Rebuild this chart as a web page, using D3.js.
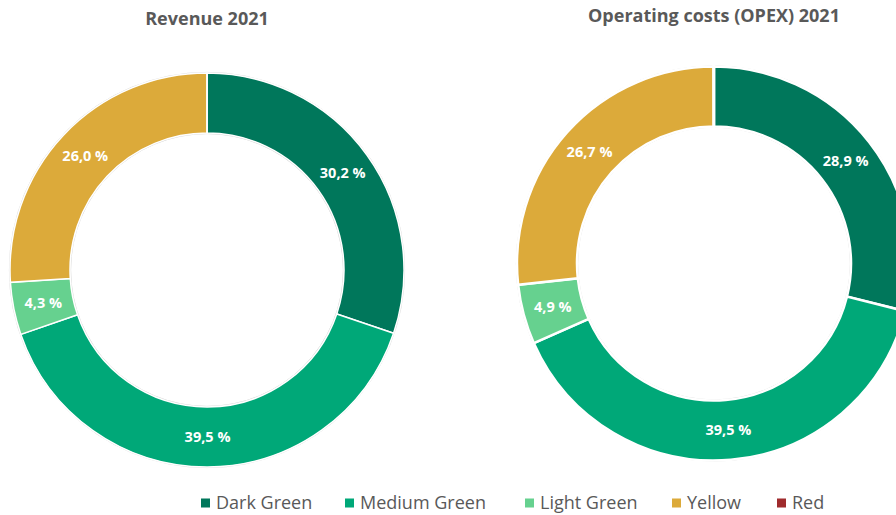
<!DOCTYPE html>
<html>
<head>
<meta charset="utf-8">
<script src="https://cdn.jsdelivr.net/npm/d3@7"></script>
<style>
    body { margin: 0; background: #fff; }
    svg { display: block; font-family: "Open Sans", sans-serif; }
</style>
</head>
<body>
<svg id="chart" width="896" height="515"></svg>
<script>
// legend / data order (Excel draws slices clockwise from 12 o'clock in this order)
const categories = ["Dark Green", "Medium Green", "Light Green", "Yellow", "Red"];
const colors = ["#00775b", "#00a878", "#66d18f", "#dcaa3a", "#9f2b2d"];

const revenueValues = [30.2, 39.5, 4.3, 26.0, 0];
const opexValues = [28.9, 39.5, 4.9, 26.7, 0.04];

const chartTitles = ["Revenue 2021", "Operating costs (OPEX) 2021"];

const svg = d3.select("#chart");
const color = d3.scaleOrdinal().domain(categories).range(colors);
const fmt = v => d3.format(".1f")(v).replace(".", ",") + " %";

function drawDonut(values, title, cx, cy, opts) {
    let g = svg.append("g")
        .attr("class", "donut")
        .attr("transform", `translate(${cx},${cy})`);

    let rows = categories.map((c, i) => ({ name: c, value: values[i] }));

    let pie = d3.pie()
        .sort(null)
        .value(d => d.value);
    let arc = d3.arc()
        .innerRadius(opts.inner)
        .outerRadius(opts.outer);
    let labelArc = d3.arc()
        .innerRadius((opts.inner + opts.outer) / 2)
        .outerRadius((opts.inner + opts.outer) / 2);

    // faint grey rim, like the Excel shadow
    g.selectAll(".rim")
        .data([opts.outer + 0.6, opts.inner - 0.6])
        .enter()
        .append("circle")
        .attr("class", "rim")
        .attr("r", d => d)
        .attr("fill", "none")
        .attr("stroke", "#d6d6d6")
        .attr("stroke-width", 1);

    let arcs = pie(rows);

    g.selectAll(".slice")
        .data(arcs)
        .enter()
        .append("path")
        .attr("class", "slice")
        .attr("d", arc)
        .attr("fill", d => color(d.data.name))
        .attr("stroke", "#fff")
        .attr("stroke-width", opts.stroke);

    g.selectAll(".pct")
        .data(arcs.filter(d => d.data.value >= 1))
        .enter()
        .append("text")
        .attr("class", "pct")
        .attr("transform", d => `translate(${labelArc.centroid(d)})`)
        .attr("text-anchor", "middle")
        .attr("dy", "0.36em")
        .attr("fill", "#fff")
        .attr("font-weight", 700)
        .attr("font-size", 14.5)
        .text(d => fmt(d.data.value));

    svg.append("text")
        .attr("x", cx)
        .attr("y", opts.titleY)
        .attr("text-anchor", "middle")
        .attr("fill", "#595959")
        .attr("font-weight", 700)
        .attr("font-size", 18)
        .text(title);
}

drawDonut(revenueValues, chartTitles[0], 207, 270,
    { outer: 197, inner: 137, stroke: 1.5, titleY: 25 });
drawDonut(opexValues, chartTitles[1], 714, 263.5,
    { outer: 197, inner: 137, stroke: 2.5, titleY: 22 });

// legend along the bottom
const legendX = [201, 345, 525, 672, 777];
let legend = svg.append("g").attr("class", "legend");
let items = legend.selectAll(".item")
    .data(categories)
    .enter()
    .append("g")
    .attr("class", "item")
    .attr("transform", (d, i) => `translate(${legendX[i]},503)`);

items.append("rect")
    .attr("x", 0)
    .attr("y", -4.5)
    .attr("width", 9)
    .attr("height", 9)
    .attr("fill", d => color(d));

items.append("text")
    .attr("x", 15)
    .attr("dy", "0.35em")
    .attr("fill", "#595959")
    .attr("font-size", 18)
    .text(d => d);
</script>
</body>
</html>
